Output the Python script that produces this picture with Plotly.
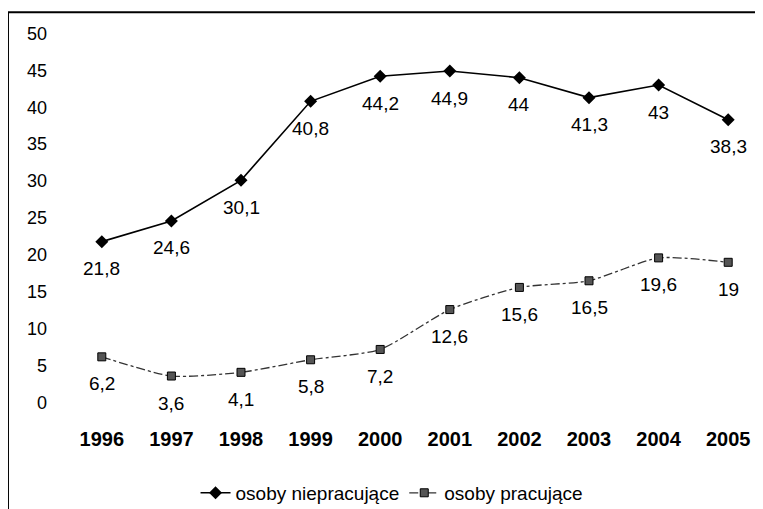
import plotly.graph_objects as go

# dane z wykresu
lata = ["1996", "1997", "1998", "1999", "2000", "2001", "2002", "2003", "2004", "2005"]
niepracujace = [21.8, 24.6, 30.1, 40.8, 44.2, 44.9, 44.0, 41.3, 43.0, 38.3]
pracujace = [6.2, 3.6, 4.1, 5.8, 7.2, 12.6, 15.6, 16.5, 19.6, 19.0]
y_ticks = [0, 5, 10, 15, 20, 25, 30, 35, 40, 45, 50]

FONT = "Liberation Sans, Arial, sans-serif"

def fmt(v):
    # polski zapis dziesietny z przecinkiem
    return f"{v:g}".replace(".", ",")

fig = go.Figure()

fig.add_trace(go.Scatter(
    x=lata, y=niepracujace,
    mode="lines+markers",
    name="osoby niepracujące",
    line=dict(color="black", width=1.6),
    marker=dict(symbol="diamond", size=10, color="black"),
))

fig.add_trace(go.Scatter(
    x=lata, y=pracujace,
    mode="lines+markers",
    name="osoby pracujące",
    line=dict(color="#333333", width=1.3, dash="dashdot", shape="spline", smoothing=0.6),
    marker=dict(symbol="square", size=8, color="#555555", line=dict(color="black", width=1)),
))

# etykiety wartosci pod punktami (x jako indeks kategorii)
for seria in (niepracujace, pracujace):
    for i, v in enumerate(seria):
        fig.add_annotation(
            x=i, y=v, text=fmt(v),
            showarrow=False, yshift=-27,
            font=dict(family=FONT, size=19, color="black"),
        )

# ramka (gorna i lewa krawedz skanu)
fig.add_shape(type="line", xref="paper", yref="paper",
              x0=-0.085, x1=1.02, y0=1.036, y1=1.036,
              line=dict(color="black", width=2))
fig.add_shape(type="line", xref="paper", yref="paper",
              x0=-0.0848, x1=-0.0848, y0=1.036, y1=-0.26,
              line=dict(color="black", width=2))

fig.update_layout(
    width=763, height=509,
    margin=dict(l=59, r=8, t=18, b=107, autoexpand=False),
    paper_bgcolor="white",
    plot_bgcolor="white",
    font=dict(family=FONT, color="black"),
    showlegend=True,
    legend=dict(
        orientation="h",
        x=0.467, xanchor="center",
        y=-0.216, yanchor="middle",
        font=dict(family=FONT, size=19, color="black"),
        itemwidth=30,
    ),
    xaxis=dict(
        type="category",
        range=[-0.5, 9.5],
        showgrid=False, showline=False, zeroline=False,
        ticks="",
        tickfont=dict(family=FONT, size=20, color="black", weight="bold"),
        ticklabelstandoff=15,
    ),
    yaxis=dict(
        range=[-1, 51],
        tickvals=y_ticks,
        showgrid=False, showline=False, zeroline=False,
        ticks="",
        tickfont=dict(family=FONT, size=18, color="black"),
        ticklabelstandoff=19,
    ),
)

fig.write_html("out.html")
